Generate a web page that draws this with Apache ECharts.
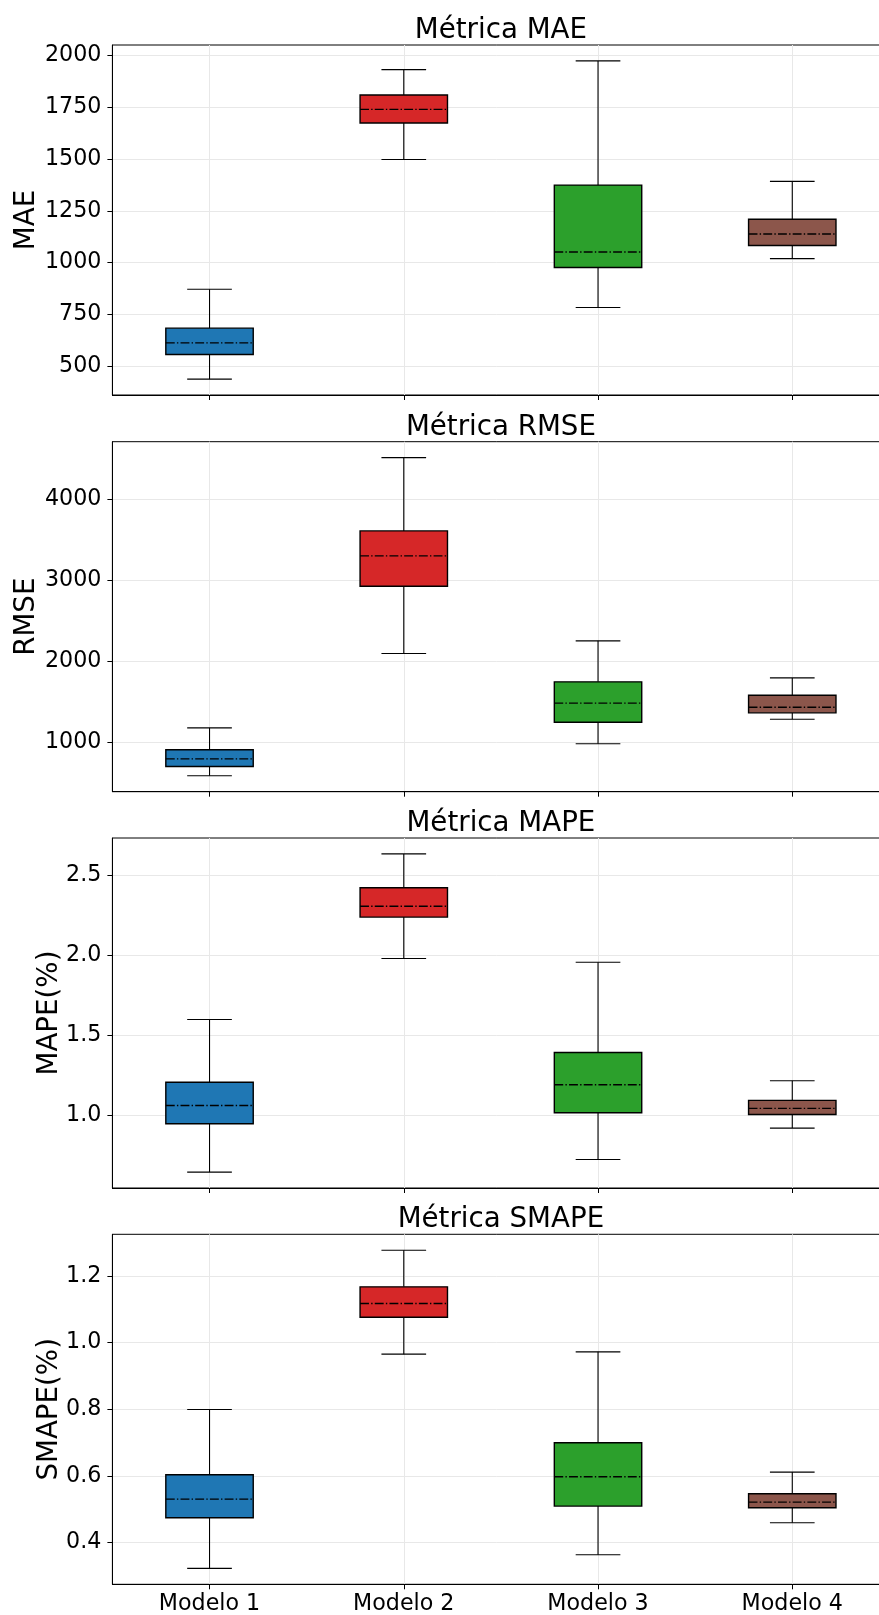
<!DOCTYPE html>
<html><head><meta charset="utf-8">
<script src="https://cdn.jsdelivr.net/npm/echarts@6/dist/echarts.min.js"></script>
<style>html,body{margin:0;padding:0;background:#fff}#chart{width:879px;height:1615px}</style>
</head><body><div id="chart"></div>
<script>
// ---- data ----
const categories = ['Modelo 1', 'Modelo 2', 'Modelo 3', 'Modelo 4'];
// each entry: [min whisker, Q1, median, Q3, max whisker]
const maeValues = [[437, 556, 612, 683, 871], [1498, 1674, 1740, 1809, 1932], [783, 976, 1051, 1374, 1974], [1019, 1082, 1138, 1209, 1392]];
const rmseValues = [[585, 700, 794, 906, 1177], [2095, 2926, 3300, 3609, 4514], [980, 1247, 1482, 1745, 2251], [1284, 1362, 1432, 1580, 1794]];
const mapeValues = [[0.644, 0.946, 1.060, 1.206, 1.598], [1.979, 2.238, 2.306, 2.421, 2.633], [0.723, 1.015, 1.190, 1.392, 1.956], [0.919, 1.004, 1.042, 1.092, 1.215]];
const smapeValues = [[0.322, 0.474, 0.530, 0.603, 0.799], [0.965, 1.076, 1.117, 1.167, 1.277], [0.363, 0.509, 0.597, 0.699, 0.972], [0.459, 0.504, 0.521, 0.546, 0.611]];
const maeTicks = [500, 750, 1000, 1250, 1500, 1750, 2000];
const rmseTicks = [1000, 2000, 3000, 4000];
const mapeTicks = [1.0, 1.5, 2.0, 2.5];
const smapeTicks = [0.4, 0.6, 0.8, 1.0, 1.2];
const panelTitles = ['Métrica MAE', 'Métrica RMSE', 'Métrica MAPE', 'Métrica SMAPE'];
const axisNames = ['MAE', 'RMSE', 'MAPE(%)', 'SMAPE(%)'];
const boxColors = ['#1f77b4', '#d62728', '#2ca02c', '#8c564b'];

// ---- layout / style ----
const panels = [maeValues, rmseValues, mapeValues, smapeValues];
const tickSets = [maeTicks, rmseTicks, mapeTicks, smapeTicks];
const decimals = [0, 0, 1, 1];
const FONT = '"DejaVu Sans", sans-serif';
const gridTops = [45, 441.7, 838, 1234.3];
const gridLeft = 112.4, gridWidth = 777, gridHeight = 350;
const nameGaps = [72, 72, 49, 49];
const gridColor = '#e8e8e8';

function renderBox(params, api) {
  const x = api.value(0);
  const pLo = api.coord([x, api.value(1)]);
  const pQ1 = api.coord([x, api.value(2)]);
  const pMed = api.coord([x, api.value(3)]);
  const pQ3 = api.coord([x, api.value(4)]);
  const pHi = api.coord([x, api.value(5)]);
  const unit = api.size([1, 0])[0];
  const bw = unit * 0.45, cw = unit * 0.23;
  const cx = pLo[0];
  const color = boxColors[params.dataIndex];
  const ls = () => ({ stroke: '#000', lineWidth: 1.1, fill: null });
  return {
    type: 'group',
    children: [
      { type: 'line', shape: { x1: cx, y1: pQ1[1], x2: cx, y2: pLo[1] }, style: ls() },
      { type: 'line', shape: { x1: cx, y1: pQ3[1], x2: cx, y2: pHi[1] }, style: ls() },
      { type: 'line', shape: { x1: cx - cw / 2, y1: pLo[1], x2: cx + cw / 2, y2: pLo[1] }, style: ls() },
      { type: 'line', shape: { x1: cx - cw / 2, y1: pHi[1], x2: cx + cw / 2, y2: pHi[1] }, style: ls() },
      { type: 'rect', shape: { x: cx - bw / 2, y: pQ3[1], width: bw, height: pQ1[1] - pQ3[1] },
        style: { fill: color, stroke: '#000', lineWidth: 1.4 } },
      { type: 'line', shape: { x1: cx - bw / 2, y1: pMed[1], x2: cx + bw / 2, y2: pMed[1] },
        style: { stroke: '#000', lineWidth: 1.4, lineDash: [8.9, 2.2, 1.4, 2.2], fill: null } }
    ]
  };
}

const grids = [], xAxes = [], yAxes = [], series = [], graphics = [];
panels.forEach((vals, i) => {
  let lo = Infinity, hi = -Infinity;
  vals.forEach(v => { lo = Math.min(lo, v[0]); hi = Math.max(hi, v[4]); });
  const pad = (hi - lo) * 0.05;
  grids.push({ left: gridLeft, top: gridTops[i], width: gridWidth, height: gridHeight,
    outerBoundsMode: 'none', containLabel: false,
    show: true, borderColor: '#000', borderWidth: 1, backgroundColor: 'transparent' });
  xAxes.push({
    type: 'value', gridIndex: i, min: 0.5, max: 4.5,
    axisLine: { show: true, onZero: false, lineStyle: { color: '#000', width: 1 } },
    axisTick: { show: true, customValues: [1, 2, 3, 4], length: 5, lineStyle: { color: '#000', width: 1 } },
    axisLabel: { show: i === 3, customValues: [1, 2, 3, 4], margin: 9,
      formatter: v => categories[Math.round(v) - 1], fontSize: 22.2, color: '#000', fontFamily: FONT },
    splitLine: { show: true, lineStyle: { color: gridColor, width: 1 } }
  });
  yAxes.push({
    type: 'value', gridIndex: i, min: lo - pad, max: hi + pad,
    name: axisNames[i], nameLocation: 'middle', nameRotate: 90, nameGap: nameGaps[i],
    nameMoveOverlap: false,
    nameTextStyle: { fontSize: 27.7, color: '#000', fontFamily: FONT },
    axisLine: { show: true, lineStyle: { color: '#000', width: 1 } },
    axisTick: { show: true, customValues: tickSets[i], length: 5, lineStyle: { color: '#000', width: 1 } },
    axisLabel: { customValues: tickSets[i], margin: 11, fontSize: 22.2, color: '#000', fontFamily: FONT,
      formatter: v => Number(v).toFixed(decimals[i]) },
    splitLine: { show: true, lineStyle: { color: gridColor, width: 1 } }
  });
  series.push({
    type: 'custom', xAxisIndex: i, yAxisIndex: i, renderItem: renderBox,
    encode: { x: 0, y: [1, 2, 3, 4, 5] },
    data: vals.map((v, k) => [k + 1].concat(v)), clip: false, silent: true
  });
  graphics.push({
    type: 'text', x: gridLeft + gridWidth / 2, y: gridTops[i] - 14,
    style: { text: panelTitles[i], fontSize: 27.7, fontFamily: FONT, fill: '#000',
      align: 'center', verticalAlign: 'middle' }
  });
});

const chart = echarts.init(document.getElementById('chart'), null, { renderer: 'canvas' });
chart.setOption({
  animation: false,
  backgroundColor: '#fff',
  grid: grids, xAxis: xAxes, yAxis: yAxes, series: series, graphic: graphics
});
</script></body></html>
